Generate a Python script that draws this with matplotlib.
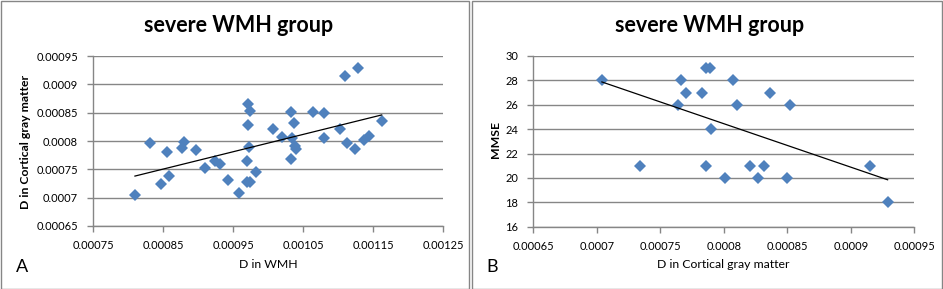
import numpy as np
import matplotlib
matplotlib.use("Agg")
import matplotlib.pyplot as plt
from matplotlib.patches import Rectangle
from matplotlib.ticker import FixedLocator

plt.rcParams['font.family'] = ['Lato', 'DejaVu Sans']

# Panel A: D in WMH vs D in cortical gray matter
wmh_d = [0.0008095, 0.0008305, 0.000847, 0.000855, 0.000858, 0.000876, 0.000880,
         0.000897, 0.000910, 0.000924, 0.000931, 0.000943, 0.000958, 0.000971,
         0.000974, 0.000971, 0.000973, 0.000970, 0.000970, 0.000974, 0.000982,
         0.001007, 0.001020, 0.001033, 0.001036, 0.001034, 0.001032, 0.001038,
         0.001040, 0.001064, 0.001080, 0.001080, 0.001109, 0.001128, 0.001103,
         0.001113, 0.001124, 0.001136, 0.001144, 0.001162]
cgm_d_a = [0.000704, 0.000796, 0.000725, 0.000781, 0.000738, 0.000788, 0.000799,
           0.000784, 0.000752, 0.000765, 0.000760, 0.000732, 0.000708, 0.000866,
           0.000853, 0.000828, 0.000789, 0.000765, 0.000727, 0.000727, 0.000745,
           0.000822, 0.000807, 0.000852, 0.000831, 0.000805, 0.000769, 0.000791,
           0.000786, 0.000851, 0.000849, 0.000806, 0.000914, 0.000928, 0.000821,
           0.000796, 0.000786, 0.000801, 0.000809, 0.000835]

# Panel B: D in cortical gray matter vs MMSE
cgm_d_b = [0.000704, 0.000734, 0.000764, 0.000766, 0.000770, 0.000783, 0.000786,
           0.000789, 0.000786, 0.000790, 0.000801, 0.000807, 0.000810, 0.000821,
           0.000827, 0.000832, 0.000836, 0.000850, 0.000852, 0.000915, 0.000929]
mmse = [28, 21, 26, 28, 27, 27, 29, 29, 21, 24, 20, 28, 26, 21, 20, 21, 27, 20, 26, 21, 18]

title = "severe WMH group"
xticks_a = [0.00075, 0.00085, 0.00095, 0.00105, 0.00115, 0.00125]
xticklabels_a = ["0.00075", "0.00085", "0.00095", "0.00105", "0.00115", "0.00125"]
yticks_a = [0.00065, 0.0007, 0.00075, 0.0008, 0.00085, 0.0009, 0.00095]
yticklabels_a = ["0.00065", "0.0007", "0.00075", "0.0008", "0.00085", "0.0009", "0.00095"]
xticks_b = [0.00065, 0.0007, 0.00075, 0.0008, 0.00085, 0.0009, 0.00095]
xticklabels_b = ["0.00065", "0.0007", "0.00075", "0.0008", "0.00085", "0.0009", "0.00095"]
yticks_b = [16, 18, 20, 22, 24, 26, 28, 30]
yticklabels_b = ["16", "18", "20", "22", "24", "26", "28", "30"]

W, H = 943, 289
fig = plt.figure(figsize=(W / 100, H / 100), dpi=100)

MARK = '#4F81BD'
GRID = '#868686'

def fpos(x0, x1, ytop, ybot):
    return [x0 / W, 1 - ybot / H, (x1 - x0) / W, (ybot - ytop) / H]

def style(ax, xt, xtl, yt, ytl):
    ax.set_xlim(xt[0], xt[-1])
    ax.set_ylim(yt[0], yt[-1])
    ax.xaxis.set_major_locator(FixedLocator(xt))
    ax.yaxis.set_major_locator(FixedLocator(yt))
    ax.set_xticklabels(xtl)
    ax.set_yticklabels(ytl)
    for s in ['top', 'right']:
        ax.spines[s].set_visible(False)
    for s in ['left', 'bottom']:
        ax.spines[s].set_color(GRID)
        ax.spines[s].set_linewidth(1.0)
    ax.tick_params(axis='both', colors=GRID, labelcolor='black', labelsize=8,
                   length=4, width=1.0, direction='out')
    ax.tick_params(axis='x', pad=6)
    ax.tick_params(axis='y', pad=7)
    ax.yaxis.grid(True, color=GRID, linewidth=1.0)
    ax.set_axisbelow(True)

def draw(ax, x, y):
    x = np.asarray(x)
    y = np.asarray(y)
    ax.plot(x, y, linestyle='none', marker='D', markersize=5.8, color=MARK,
            markeredgewidth=0, zorder=3, clip_on=False)
    k, b = np.polyfit(x, y, 1)
    xs = np.array([x.min(), x.max()])
    ax.plot(xs, k * xs + b, color='black', linewidth=0.9, zorder=4)

# Panel A
axA = fig.add_axes(fpos(93.3, 443.3, 56, 226))
draw(axA, wmh_d, cgm_d_a)
style(axA, xticks_a, xticklabels_a, yticks_a, yticklabels_a)

# Panel B
axB = fig.add_axes(fpos(533.3, 914.3, 56, 226.7))
draw(axB, cgm_d_b, mmse)
style(axB, xticks_b, xticklabels_b, yticks_b, yticklabels_b)

# Titles, labels
fig.text(239 / W, 1 - 26 / H, title, ha='center', va='center', fontsize=15.5, fontweight='bold')
fig.text(710 / W, 1 - 26 / H, title, ha='center', va='center', fontsize=15.5, fontweight='bold')
fig.text(268 / W, 1 - 264 / H, "D in WMH", ha='center', va='center', fontsize=8.8)
fig.text(723 / W, 1 - 264 / H, "D in Cortical gray matter", ha='center', va='center', fontsize=8.8)
fig.text(26 / W, 1 - 142 / H, "D in Cortical gray matter", ha='center', va='center',
         rotation=90, fontsize=8.8, fontweight='bold')
fig.text(496 / W, 1 - 140 / H, "MMSE", ha='center', va='center',
         rotation=90, fontsize=8.8, fontweight='bold')
fig.text(22 / W, 1 - 267 / H, "A", ha='center', va='center', fontsize=13)
fig.text(492 / W, 1 - 267 / H, "B", ha='center', va='center', fontsize=13)

# Panel borders
fig.patches.append(Rectangle((0.5 / W, 0.5 / H), 468.5 / W, 287.5 / H, transform=fig.transFigure,
                             fill=False, edgecolor=GRID, linewidth=1.0))
fig.patches.append(Rectangle((471.5 / W, 0.5 / H), 470.5 / W, 287.5 / H, transform=fig.transFigure,
                             fill=False, edgecolor=GRID, linewidth=1.0))

fig.savefig('out.png', dpi=100)
